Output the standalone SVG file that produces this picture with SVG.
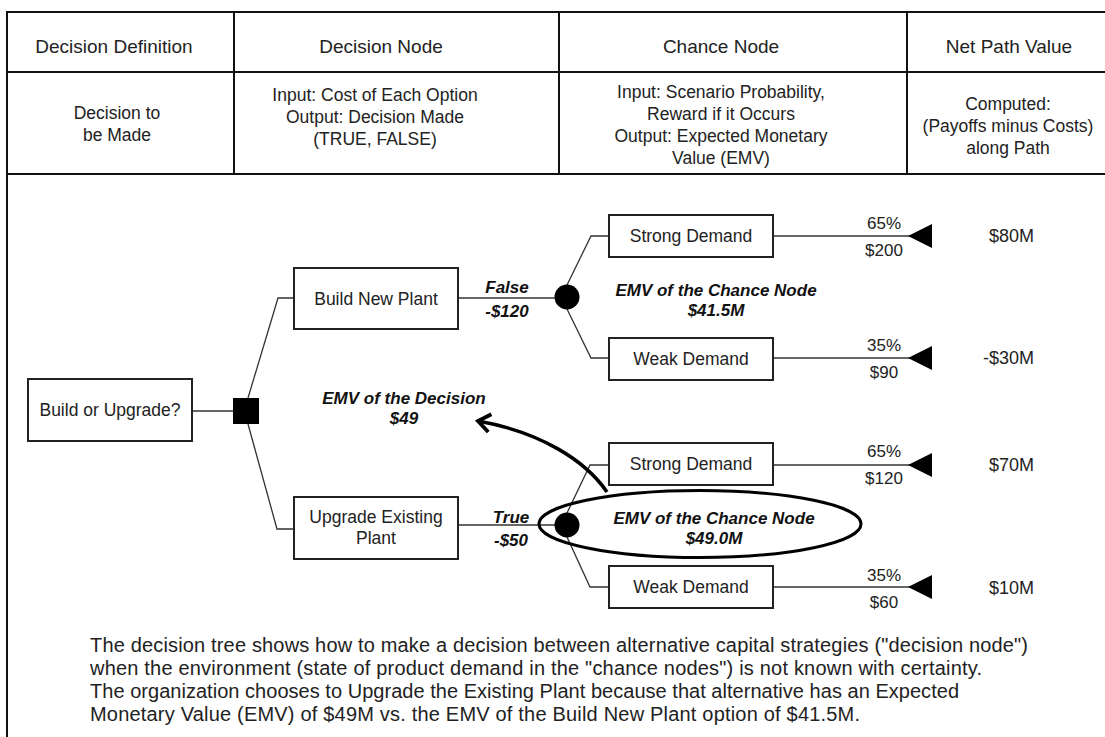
<svg xmlns="http://www.w3.org/2000/svg" width="1105" height="737" viewBox="0 0 1105 737">
<style>
text{font-family:"Liberation Sans",Arial,sans-serif;fill:#222}
.hd{font-size:19px;text-anchor:middle}
.cell{font-size:17.5px;text-anchor:middle}
.lbl{font-size:17.5px;text-anchor:middle}
.emv{font-size:17px;font-weight:bold;font-style:italic;text-anchor:middle;fill:#111}
.pct{font-size:17px;text-anchor:middle}
.val{font-size:18px;text-anchor:end}
.para{font-size:20px}
.grid{stroke:#111;stroke-width:2;fill:none}
.box{fill:#fff;stroke:#222;stroke-width:2}
.conn{fill:none;stroke:#333;stroke-width:1.3}
.tri{fill:#000}
</style>
<defs>
<marker id="chev" markerUnits="userSpaceOnUse" markerWidth="26" markerHeight="26" viewBox="-15 -13 19 26" refX="0" refY="0" orient="auto">
<path d="M -12 -9 L 0 0 L -12 9" fill="none" stroke="#000" stroke-width="3.8" stroke-linejoin="miter"/>
</marker>
</defs>
<rect width="1105" height="737" fill="#fff"/>
<g id="table">
<line class="grid" x1="7" y1="12" x2="1105" y2="12"/>
<line class="grid" x1="7" y1="72" x2="1105" y2="72"/>
<line class="grid" x1="7" y1="174" x2="1105" y2="174"/>
<line class="grid" x1="7" y1="11" x2="7" y2="737"/>
<line class="grid" x1="234" y1="12" x2="234" y2="174"/>
<line class="grid" x1="559" y1="12" x2="559" y2="174"/>
<line class="grid" x1="907" y1="12" x2="907" y2="174"/>
<text class="hd" x="114" y="53">Decision Definition</text>
<text class="hd" x="381" y="53">Decision Node</text>
<text class="hd" x="721" y="53">Chance Node</text>
<text class="hd" x="1009" y="53">Net Path Value</text>
<text class="cell" x="117" y="119">Decision to</text>
<text class="cell" x="117" y="141">be Made</text>
<text class="cell" x="375" y="101">Input: Cost of Each Option</text>
<text class="cell" x="375" y="123">Output: Decision Made</text>
<text class="cell" x="375" y="145">(TRUE, FALSE)</text>
<text class="cell" x="721" y="98">Input: Scenario Probability,</text>
<text class="cell" x="721" y="120">Reward if it Occurs</text>
<text class="cell" x="721" y="142">Output: Expected Monetary</text>
<text class="cell" x="721" y="164">Value (EMV)</text>
<text class="cell" x="1008" y="110">Computed:</text>
<text class="cell" x="1008" y="132">(Payoffs minus Costs)</text>
<text class="cell" x="1008" y="154">along Path</text>
</g>
<g id="connectors">
<line class="conn" x1="192" y1="411" x2="233" y2="411"/>
<polyline class="conn" points="248,398 278,298 294,298"/>
<polyline class="conn" points="248,424 277,529 294,529"/>
<line class="conn" x1="458" y1="298" x2="556" y2="298"/>
<line class="conn" x1="458" y1="525" x2="556" y2="525"/>
<polyline class="conn" points="567,285 591,236 609,236"/>
<polyline class="conn" points="567,309 591,358 609,358"/>
<polyline class="conn" points="567,513 590,465 609,465"/>
<polyline class="conn" points="567,537 590,587 609,587"/>
<line class="conn" x1="773" y1="236" x2="910" y2="236"/>
<line class="conn" x1="773" y1="358" x2="910" y2="358"/>
<line class="conn" x1="773" y1="465" x2="910" y2="465"/>
<line class="conn" x1="773" y1="587" x2="910" y2="587"/>
<text class="emv" x="507" y="293">False</text>
<text class="emv" x="507" y="317">-$120</text>
<text class="emv" x="511" y="523">True</text>
<text class="emv" x="511" y="546">-$50</text>
<text class="pct" x="884" y="229">65%</text>
<text class="pct" x="884" y="256">$200</text>
<text class="pct" x="884" y="351">35%</text>
<text class="pct" x="884" y="378">$90</text>
<text class="pct" x="884" y="457">65%</text>
<text class="pct" x="884" y="484">$120</text>
<text class="pct" x="884" y="581">35%</text>
<text class="pct" x="884" y="608">$60</text>
</g>
<g id="n-root">
<rect class="box" x="28" y="379" width="164" height="62"/>
<text class="lbl" x="110" y="416">Build or Upgrade?</text>
</g>
<g id="n-decision">
<rect x="233" y="398" width="26" height="26" fill="#000"/>
</g>
<g id="n-build">
<rect class="box" x="294" y="268" width="164" height="61"/>
<text class="lbl" x="376" y="305">Build New Plant</text>
</g>
<g id="n-upgrade">
<rect class="box" x="294" y="497" width="164" height="62"/>
<text class="lbl" x="376" y="523">Upgrade Existing</text>
<text class="lbl" x="376" y="544">Plant</text>
</g>
<g id="n-chance1">
<circle cx="567" cy="297" r="12.5" fill="#000"/>
<text class="emv" x="716" y="296">EMV of the Chance Node</text>
<text class="emv" x="716" y="316">$41.5M</text>
</g>
<g id="n-chance2">
<ellipse cx="700" cy="524" rx="161" ry="33.5" fill="none" stroke="#000" stroke-width="3"/>
<circle cx="567" cy="525" r="12.5" fill="#000"/>
<text class="emv" x="714" y="524">EMV of the Chance Node</text>
<text class="emv" x="714" y="544">$49.0M</text>
</g>
<g id="n-emv-decision">
<text class="emv" x="404" y="404">EMV of the Decision</text>
<text class="emv" x="404" y="424">$49</text>
<path d="M 607 492 C 585 460 540 432 478 421" fill="none" stroke="#000" stroke-width="3.5" marker-end="url(#chev)"/>
</g>
<g id="n-strong1">
<rect class="box" x="609" y="215" width="164" height="42"/>
<text class="lbl" x="691" y="242">Strong Demand</text>
</g>
<g id="n-weak1">
<rect class="box" x="609" y="338" width="164" height="42"/>
<text class="lbl" x="691" y="365">Weak Demand</text>
</g>
<g id="n-strong2">
<rect class="box" x="609" y="443" width="164" height="42"/>
<text class="lbl" x="691" y="470">Strong Demand</text>
</g>
<g id="n-weak2">
<rect class="box" x="609" y="566" width="164" height="42"/>
<text class="lbl" x="691" y="593">Weak Demand</text>
</g>
<g id="n-end1">
<polygon class="tri" points="908,236 932,224 932,248"/>
<text class="val" x="1034" y="242">$80M</text>
</g>
<g id="n-end2">
<polygon class="tri" points="908,358 932,346 932,370"/>
<text class="val" x="1034" y="364">-$30M</text>
</g>
<g id="n-end3">
<polygon class="tri" points="908,465 932,453 932,477"/>
<text class="val" x="1034" y="471">$70M</text>
</g>
<g id="n-end4">
<polygon class="tri" points="908,587 932,575 932,599"/>
<text class="val" x="1034" y="594">$10M</text>
</g>
<g id="caption">
<text class="para" x="90" y="652" textLength="938" lengthAdjust="spacing">The decision tree shows how to make a decision between alternative capital strategies ("decision node")</text>
<text class="para" x="90" y="675" textLength="892" lengthAdjust="spacing">when the environment (state of product demand in the "chance nodes") is not known with certainty.</text>
<text class="para" x="90" y="698" textLength="869" lengthAdjust="spacing">The organization chooses to Upgrade the Existing Plant because that alternative has an Expected</text>
<text class="para" x="90" y="721" textLength="770" lengthAdjust="spacing">Monetary Value (EMV) of $49M vs. the EMV of the Build New Plant option of $41.5M.</text>
</g>
</svg>
